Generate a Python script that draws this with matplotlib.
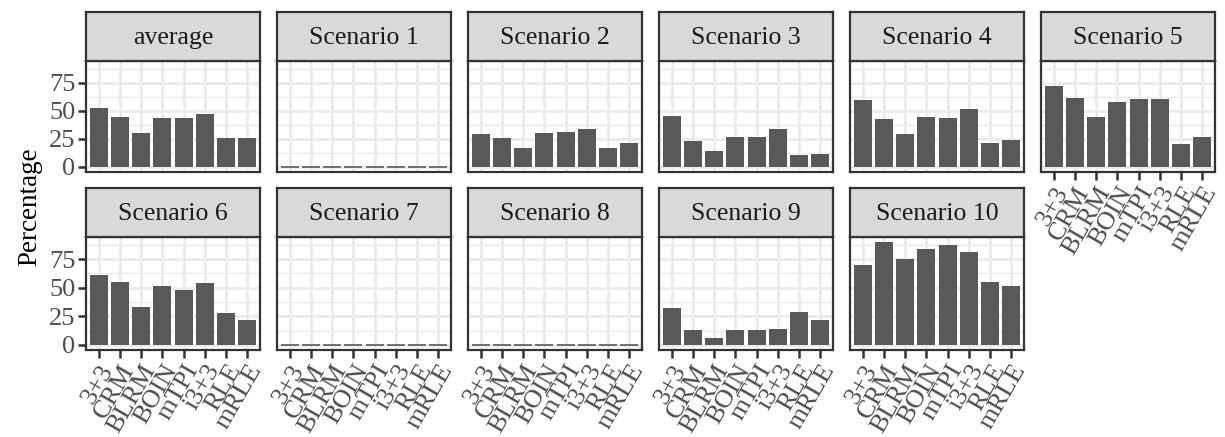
import matplotlib
matplotlib.use("Agg")
import matplotlib.pyplot as plt
import numpy as np

plt.rcParams['font.family'] = ['Liberation Serif', 'DejaVu Serif']

categories = ["3+3", "CRM", "BLRM", "BOIN", "mTPI", "i3+3", "RLE", "mRLE"]
panels = ["average", "Scenario 1", "Scenario 2", "Scenario 3", "Scenario 4",
          "Scenario 5", "Scenario 6", "Scenario 7", "Scenario 8", "Scenario 9",
          "Scenario 10"]

average = [52.3, 44.5, 30.5, 43.6, 43.6, 47.1, 25.6, 25.6]
scen1 = [0, 0, 0, 0, 0, 0, 0, 0]
scen2 = [29.7, 26.2, 16.6, 30.5, 31.4, 34.0, 16.6, 20.9]
scen3 = [45.3, 23.5, 14.0, 27.0, 27.0, 34.0, 10.5, 11.3]
scen4 = [59.3, 42.7, 29.7, 44.5, 43.6, 51.5, 20.9, 24.4]
scen5 = [72.4, 61.0, 44.5, 57.6, 60.2, 60.2, 20.1, 27.0]
scen6 = [61.0, 54.9, 33.1, 51.5, 48.0, 54.1, 27.9, 21.8]
scen7 = [0, 0, 0, 0, 0, 0, 0, 0]
scen8 = [0, 0, 0, 0, 0, 0, 0, 0]
scen9 = [32.3, 13.1, 6.1, 13.1, 13.1, 14.0, 28.8, 21.8]
scen10 = [69.8, 89.8, 75.0, 83.7, 87.2, 81.1, 54.9, 51.5]
values = [average, scen1, scen2, scen3, scen4, scen5, scen6, scen7, scen8,
          scen9, scen10]
yticks = [0, 25, 50, 75]

W, H = 1225, 437
fig = plt.figure(figsize=(W / 100, H / 100), dpi=100)


def box(l, t, w, h):
    return [l / W, 1 - (t + h) / H, w / W, h / H]


ymax = max(max(v) for v in values)
pad = ymax * 0.05
x = np.arange(1, len(categories) + 1)

for i, name in enumerate(panels):
    r, c = divmod(i, 6)
    left = 86 + 191 * c
    ptop = [61, 237][r]
    stop = [12, 188][r]
    ph = [111, 113][r]
    ax = fig.add_axes(box(left, ptop, 174, ph))
    st = fig.add_axes(box(left, stop, 174, ptop - stop))

    vals = values[i]
    lw = [1.2 if v == 0 else 0 for v in vals]
    ax.bar(x, vals, width=0.85, color='#595959', edgecolor='#595959',
           linewidth=lw, zorder=3)
    ax.set_xlim(0.4, len(categories) + 0.6)
    ax.set_ylim(-pad, ymax + pad)
    ax.set_facecolor('white')
    ax.set_xticks(x)
    ax.set_yticks(yticks)
    ax.set_yticks([12.5, 37.5, 62.5, 87.5], minor=True)
    ax.grid(which='major', color='#EBEBEB', linewidth=2.0, zorder=0)
    ax.grid(which='minor', axis='y', color='#EBEBEB', linewidth=1.0, zorder=0)
    ax.set_axisbelow(True)
    for s in ax.spines.values():
        s.set_color('#333333')
        s.set_linewidth(1.6)
        s.set_zorder(5)
    ax.tick_params(which='major', length=6, width=1.8, color='#333333',
                   labelcolor='#4D4D4D', labelsize=19, pad=1.5)
    ax.tick_params(which='minor', length=0)

    show_x = (r == 1) or (i == 5)
    if show_x:
        ax.set_xticklabels(categories, rotation=60, ha='right', va='top',
                           rotation_mode='anchor')
    else:
        ax.tick_params(axis='x', length=0, labelbottom=False)
    if c == 0:
        ax.set_yticklabels([str(t) for t in yticks])
    else:
        ax.tick_params(axis='y', length=0, labelleft=False)

    st.set_facecolor('#D9D9D9')
    st.set_xticks([])
    st.set_yticks([])
    for s in st.spines.values():
        s.set_color('#333333')
        s.set_linewidth(1.6)
    st.text(0.5, 0.47, name, ha='center', va='center', fontsize=18.5,
            color='#1A1A1A', transform=st.transAxes)

fig.text(30 / W, 1 - 207 / H, "Percentage", rotation=90, ha='center',
         va='center', fontsize=19.5, color='black')

fig.savefig("out.png", dpi=100)
